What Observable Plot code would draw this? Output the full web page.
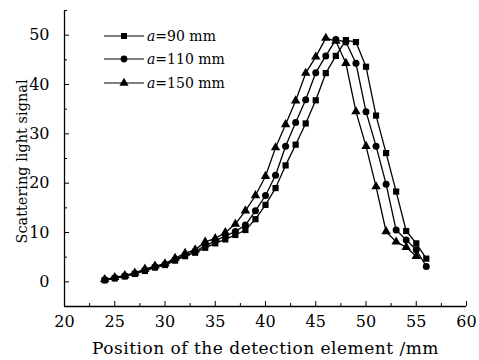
<!DOCTYPE html>
<html><head><meta charset="utf-8">
<script src="https://cdn.jsdelivr.net/npm/d3@7"></script>
<script src="https://cdn.jsdelivr.net/npm/@observablehq/plot@0.6"></script>
<style>
body{margin:0;background:#fff;}
#wrap{position:relative;width:479px;height:360px;}
#legend{position:absolute;left:104px;top:24px;font-family:"DejaVu Serif",serif;font-size:14px;color:#000;}
.row{display:flex;align-items:center;height:23.5px;}
.row svg{margin-right:3px;}
</style></head>
<body><div id="wrap"><div id="legend"></div></div>
<script>
const positions = [24,25,26,27,28,29,30,31,32,33,34,35,36,37,38,39,40,41,42,43,44,45,46,47,48,49,50,51,52,53,54,55,56];
const positions150 = [24,25,26,27,28,29,30,31,32,33,34,35,36,37,38,39,40,41,42,43,44,45,46,47,48,49,50,51,52,53,54,55];
const signal90  = [0.3,0.7,1.1,1.6,2.2,2.9,3.4,4.3,5.2,5.9,6.9,7.8,8.6,9.5,10.5,12.7,15.6,19.0,23.6,27.8,32.1,36.8,42.3,45.8,49.0,48.6,43.6,33.7,26.1,18.3,10.3,7.8,4.7];
const signal110 = [0.4,0.8,1.2,1.7,2.4,3.0,3.5,4.5,5.5,6.2,7.3,8.3,9.3,10.2,11.5,14.4,17.5,21.6,27.5,32.3,36.9,42.4,45.8,49.1,48.6,44.3,34.5,27.5,19.8,10.5,8.5,6.5,3.1];
const signal150 = [0.5,0.9,1.3,1.8,2.6,3.2,3.7,4.8,5.8,6.5,8.1,8.8,10.0,11.7,14.4,17.5,21.4,27.2,31.9,36.7,42.3,45.6,49.4,48.8,44.3,34.5,27.5,19.3,10.2,8.1,7.0,5.2];
const seriesNames = ["a=90 mm","a=110 mm","a=150 mm"];
const symbols = ["square","circle","triangle"];
const xDomain = [20,60];
const yDomain = [-5,55];
const xMajor = [20,25,30,35,40,45,50,55,60];
const xMinor = [22.5,27.5,32.5,37.5,42.5,47.5,52.5,57.5];
const yMajor = [0,10,20,30,40,50];
const yMinor = [-5,5,15,25,35,45,55];
const xTitle = "Position of the detection element /mm";
const yTitle = "Scattering light signal";

const mk = (xs, ys, s) => xs.map((x,i)=>({x, y: ys[i], s}));
const data = [
  ...mk(positions, signal90, seriesNames[0]),
  ...mk(positions, signal110, seriesNames[1]),
  ...mk(positions150, signal150, seriesNames[2])
];
const font = "DejaVu Serif";

const marks = [
  Plot.ruleY([yDomain[0]], {stroke:"#000", strokeWidth:1.3}),
  Plot.ruleX([xDomain[0]], {stroke:"#000", strokeWidth:1.3}),
  Plot.axisX(xMajor, {tickSize:-5, tickPadding:14, label:null, fontSize:16, tickFormat: d=>String(d)}),
  Plot.axisX(xMinor, {tickSize:-3, tickFormat:()=>"", label:null}),
  Plot.axisY(yMajor, {tickSize:-5, tickPadding:20, label:null, fontSize:16, tickFormat: d=>String(d)}),
  Plot.axisY(yMinor, {tickSize:-3, tickFormat:()=>"", label:null}),
  Plot.text([xTitle], {frameAnchor:"bottom", dy:47, fontSize:17, fill:"#000", textAnchor:"middle"}),
  Plot.text([yTitle], {frameAnchor:"left", dx:-42, dy:3, rotate:-90, fontSize:14.5, fill:"#000", textAnchor:"middle"})
];
seriesNames.forEach((name,k)=>{
  const d = data.filter(r=>r.s===name);
  marks.push(Plot.line(d, {x:"x", y:"y", stroke:"#000", strokeWidth:1.3}));
  marks.push(Plot.dot(d, {x:"x", y:"y", symbol:()=>symbols[k], r:3.5, fill:"#000", stroke:"none"}));
});

const chart = Plot.plot({
  width:479, height:360,
  marginLeft:64, marginRight:13, marginTop:10, marginBottom:54,
  x:{domain:xDomain},
  y:{domain:yDomain},
  symbol:{domain:symbols, range:symbols},
  style:{fontFamily:font, fontSize:"15px", color:"#000", background:"#fff", overflow:"visible"},
  marks
});
document.getElementById("wrap").prepend(chart);
d3.select(chart).selectAll("text").filter(function(){return this.textContent===xTitle;}).style("letter-spacing","0.5px");

const legend = d3.select("#legend");
seriesNames.forEach((name,k)=>{
  const row = legend.append("div").attr("class","row");
  const svg = row.append("svg").attr("width",40).attr("height",12);
  svg.append("line").attr("x1",0).attr("x2",40).attr("y1",6).attr("y2",6).attr("stroke","#000").attr("stroke-width",1.2);
  svg.append("path").attr("transform","translate(20,6)").attr("fill","#000")
    .attr("d", d3.symbol(k===0?d3.symbolSquare:k===1?d3.symbolCircle:d3.symbolTriangle, 3.4*3.4*Math.PI)());
  const parts = name.split("=");
  const t = row.append("span");
  t.append("i").text(parts[0]);
  t.append("span").text("=" + parts[1]);
});
</script>
</body></html>
